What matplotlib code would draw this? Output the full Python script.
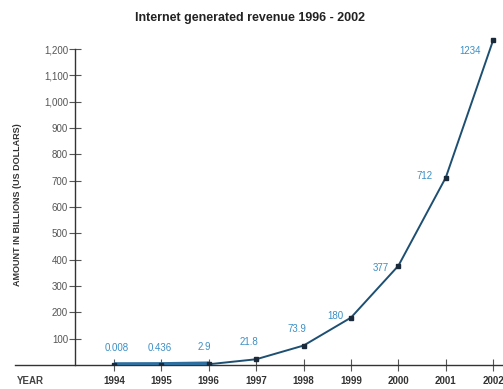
import numpy as np
import matplotlib.pyplot as plt
from matplotlib.ticker import FuncFormatter

plt.rcParams['font.family'] = ['Liberation Sans Narrow', 'Liberation Sans', 'DejaVu Sans']

# Ingresos generados por internet (miles de millones USD)
years = np.array([1994, 1995, 1996, 1997, 1998, 1999, 2000, 2001, 2002])
revenue = np.array([0.008, 0.436, 2.9, 21.8, 73.9, 180, 377, 712, 1234])
labels = ["0.008", "0.436", "2.9", "21.8", "73.9", "180", "377", "712", "1234"]
y_ticks = [100, 200, 300, 400, 500, 600, 700, 800, 900, 1000, 1100, 1200]

# desplazamientos de las etiquetas (pixeles)
offsets = [(3, 17), (-2, 17), (-4, 17), (-7, 17), (-7, 17),
           (-16, 2), (-18, -2), (-21, 2), (-23, -11)]

W, H = 503, 389
fig = plt.figure(figsize=(W / 100, H / 100), dpi=100)

# ejes en coordenadas de pixel
px_left, px_right = 15, 503
px_bottom, px_top = 365, 33
ax = fig.add_axes([px_left / W, 1 - px_bottom / H,
                   (px_right - px_left) / W, (px_bottom - px_top) / H])

step = 47.4
x0 = 1994 - (114 - px_left) / step
x1 = 1994 + (px_right - 114) / step
ax.set_xlim(x0, x1)
ax.set_ylim(0, 1200 * (px_bottom - px_top) / (px_bottom - 49))

yaxis_x = 1994 - (114 - 75) / step

for s in ['top', 'right']:
    ax.spines[s].set_visible(False)
ax.spines['left'].set_position(('data', yaxis_x))
ax.spines['left'].set_bounds(0, 1200)
ax.spines['left'].set_color('#333333')
ax.spines['bottom'].set_color('#333333')
ax.spines['left'].set_linewidth(1.0)
ax.spines['bottom'].set_linewidth(1.0)

ax.set_yticks(y_ticks)
ax.yaxis.set_major_formatter(FuncFormatter(lambda v, p: f"{int(v):,}"))
ax.set_xticks(years)
ax.set_xticklabels([str(y) for y in years])
ax.tick_params(axis='both', direction='inout', length=8, width=0.8,
               color='#555555', labelsize=7, labelcolor='#555555')
ax.tick_params(axis='x', pad=4, labelcolor='#333333')
ax.tick_params(axis='y', pad=1)
for t in ax.get_xticklabels():
    t.set_fontweight('bold')

# linea principal
ax.plot(years, revenue, color='#1d4f72', linewidth=1.4, zorder=3)
ax.plot(years[:3], revenue[:3], color='#2f6f9f', linewidth=4, zorder=3,
        solid_capstyle='butt')
ax.plot(years, revenue, linestyle='none', marker='s', markersize=2.5,
        color='#1a2a3a', zorder=4)

for x, y, lab, (dx, dy) in zip(years, revenue, labels, offsets):
    ax.annotate(lab, (x, y), xytext=(dx, dy), textcoords='offset pixels',
                ha='center', va='center', fontsize=7, color='#3b8fc4')

fig.text(250 / W, 1 - 18 / H, "Internet generated revenue 1996 - 2002",
         ha='center', va='center', fontsize=9, fontweight='bold', color='#222222')
fig.text(18 / W, 1 - 205 / H, "AMOUNT IN BILLIONS (US DOLLARS)", rotation=90,
         ha='center', va='center', fontsize=6.5, fontweight='bold', color='#333333')
fig.text(17 / W, 1 - 381 / H, "YEAR", ha='left', va='center',
         fontsize=7, fontweight='bold', color='#444444')

fig.savefig('out.png', dpi=100)
